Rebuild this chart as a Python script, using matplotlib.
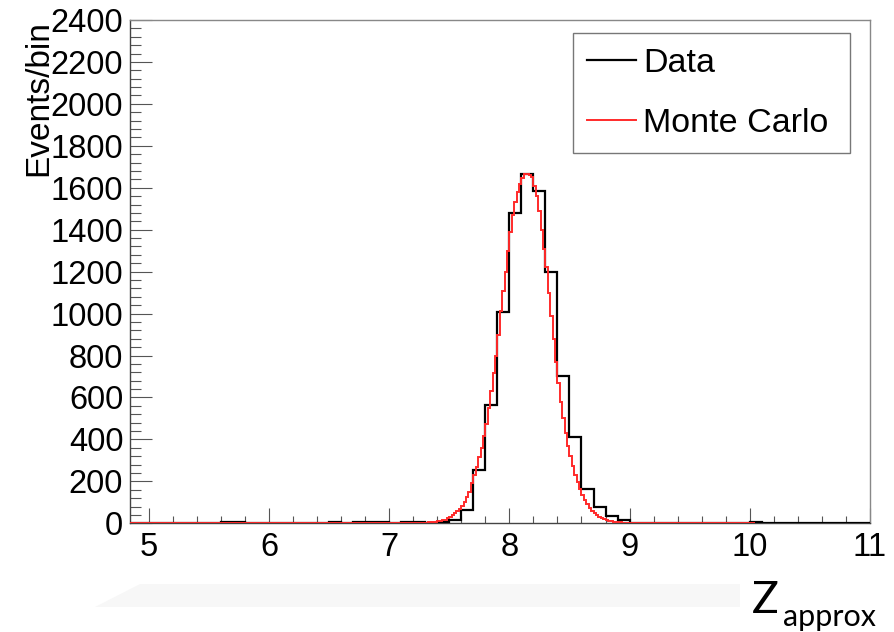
import numpy as np
import matplotlib
matplotlib.use("Agg")
import matplotlib.pyplot as plt
from matplotlib.patches import Polygon
from matplotlib.ticker import MultipleLocator

plt.rcParams["font.family"] = ["Liberation Sans", "DejaVu Sans"]

# data histogram: 0.1 wide bins starting at 4.8
data_lo = 4.8
data_width = 0.1
data_counts = [
    0, 0, 0, 0, 0, 0, 0, 0,          # 4.8 - 5.6
    6, 6,                            # 5.6 - 5.8
    0, 0, 0, 0, 0, 0, 0,             # 5.8 - 6.5
    4, 0, 7, 7, 7, 0, 6, 6, 3,       # 6.5 - 7.4
    5, 18, 65, 256, 566, 1008, 1481, 1668,
    1584, 1199, 703, 412, 165, 80, 35, 14,   # 7.4 - 9.0
    0, 0, 0, 0, 0, 0, 0, 0, 0, 0,    # 9.0 - 10.0
    5,                               # 10.0 - 10.1
    0, 0, 0, 0, 0, 0, 0, 0, 0,       # 10.1 - 11.0
]

# monte carlo histogram: 0.02 wide bins, 4.84 - 10.04, peak region 7.30 - 9.00
mc_lo = 4.84
mc_width = 0.02
mc_pad_left = 123
mc_pad_right = 52
mc_peak = [
    3, 4, 5, 6, 7, 9, 11, 14, 18, 24,
    31, 39, 48, 58, 70, 84, 102, 124, 150, 190,
    232, 270, 315, 360, 415, 475, 550, 630, 715, 800,
    900, 1010, 1110, 1200, 1300, 1390, 1470, 1530, 1580, 1620,
    1645, 1665, 1668, 1662, 1650, 1610, 1560, 1490, 1400, 1310,
    1220, 1100, 990, 880, 770, 670, 580, 500, 430, 370,
    320, 272, 230, 195, 162, 135, 112, 92, 75, 60,
    48, 39, 32, 26, 21, 17, 13, 10, 8, 6,
    5, 4, 3, 2, 2,
]

x_range = (4.84, 11.0)
y_range = (0, 2400)

fig = plt.figure(figsize=(8.94, 6.32), dpi=100)
ax = fig.add_axes([129.5 / 894, 1 - 523.3 / 632, 740.5 / 894, 503.3 / 632])

data_edges = data_lo + data_width * np.arange(len(data_counts) + 1)
mc_counts = np.concatenate([np.zeros(mc_pad_left), mc_peak, np.zeros(mc_pad_right)])
mc_edges = mc_lo + mc_width * np.arange(len(mc_counts) + 1)

ax.stairs(data_counts, data_edges, color="black", lw=1.6, label="Data", zorder=3)
ax.stairs(mc_counts, mc_edges, color="#ff2a2a", lw=1.4, label="Monte Carlo", zorder=4)

ax.set_xlim(*x_range)
ax.set_ylim(*y_range)
ax.xaxis.set_major_locator(MultipleLocator(1))
ax.xaxis.set_minor_locator(MultipleLocator(0.2))
ax.yaxis.set_major_locator(MultipleLocator(200))
ax.yaxis.set_minor_locator(MultipleLocator(40))
ax.tick_params(axis="both", which="both", direction="in", color="#555555",
               width=0.8, labelsize=23.5)
ax.tick_params(axis="y", which="major", length=15.8, pad=4.5)
ax.tick_params(axis="y", which="minor", length=7.9)
ax.tick_params(axis="x", which="major", length=10.8, pad=6)
ax.tick_params(axis="x", which="minor", length=5.4)
for side in ("top", "right"):
    ax.spines[side].set_color("#888888")
for side in ("left", "bottom"):
    ax.spines[side].set_color("#444444")
for sp in ax.spines.values():
    sp.set_linewidth(1.0)

ax.set_ylabel("Events/bin", fontsize=24, loc="top")
ax.yaxis.set_label_coords(-0.101, 1.0)

leg = ax.legend(loc="upper left", bbox_to_anchor=(0.5985, 0.735, 0.3745, 0.2385),
                mode="expand", borderaxespad=0, fontsize=24.5, handlelength=1.45,
                handletextpad=0.2, labelspacing=0.85, borderpad=0.42,
                fancybox=False, edgecolor="#777777", framealpha=1)
leg.get_frame().set_linewidth(1.0)

# faint shadow band and the axis title underneath the plot
fig.patches.append(Polygon([(95 / 894, 1 - 607 / 632), (140 / 894, 1 - 584 / 632),
                            (740 / 894, 1 - 584 / 632), (740 / 894, 1 - 607 / 632)],
                           closed=True, transform=fig.transFigure,
                           facecolor="#f7f7f7", edgecolor="none"))
fig.text(752 / 894, 1 - 613 / 632, "Z", family="Lato", fontsize=32, va="baseline")
fig.text(783 / 894, 1 - 626 / 632, "approx", family="Lato", fontsize=22, va="baseline")

fig.savefig("out.png", dpi=100)
